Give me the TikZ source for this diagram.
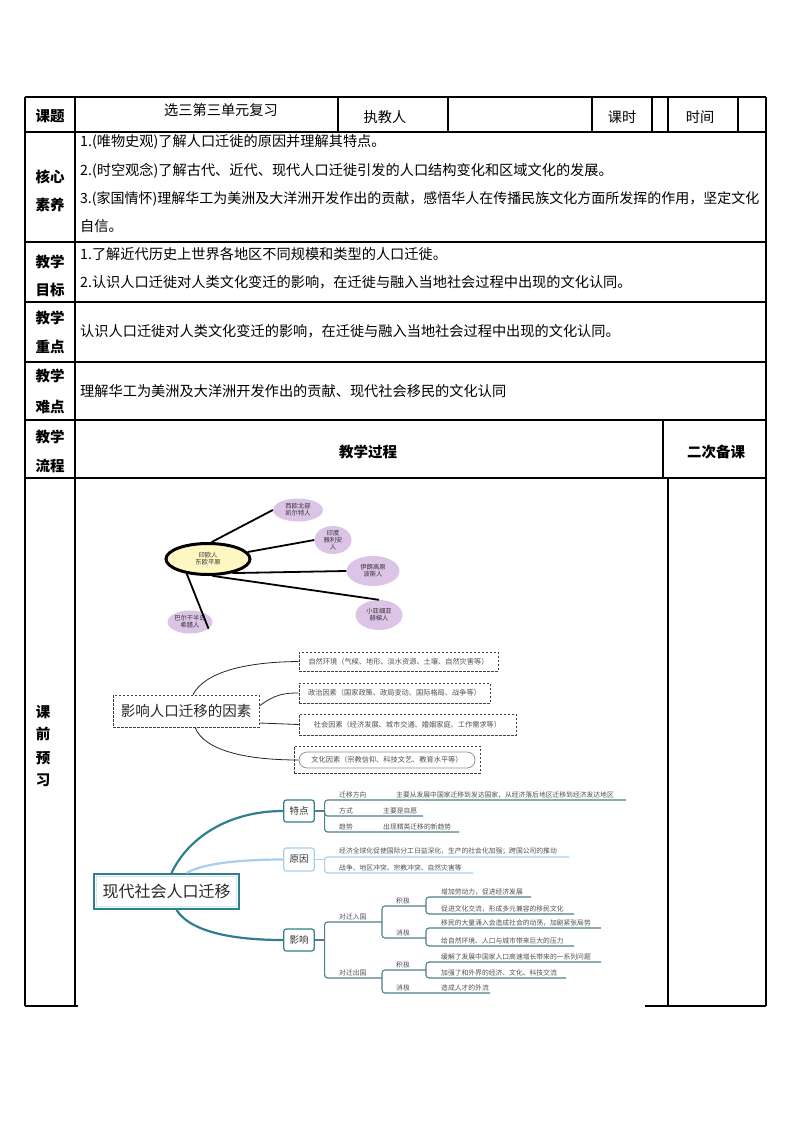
\documentclass[tikz,border=0pt]{standalone}
\usepackage{fontspec}
\setmainfont{Noto Sans CJK SC}
\usetikzlibrary{shapes.geometric}
\definecolor{ylw}{HTML}{FFF7C2}
\definecolor{pur}{HTML}{DCC4E6}
\definecolor{tealC}{HTML}{2F7F8C}
\definecolor{tealL}{HTML}{4F7F8C}
\definecolor{blueL}{HTML}{A9CFEC}
\definecolor{cyanL}{HTML}{C9ECF3}
\definecolor{txtg}{HTML}{505050}
\tikzset{
  tbl/.style={line width=1.1pt, black},
  lbl/.style={inner sep=0pt, font=\fontsize{14.5}{15}\selectfont\bfseries},
  tt/.style={inner sep=0pt, font=\fontsize{14.2}{15}\selectfont},
  tl/.style={tt, anchor=west},
  bub/.style={ellipse, fill=pur, inner sep=0pt, align=center, font=\fontsize{6.3}{7}\selectfont, text=black!80},
  spoke/.style={line width=1.8pt, black},
  fbox/.style={draw=black!75, dashed, dash pattern=on 2.5pt off 1.5pt, line width=0.8pt, inner sep=0pt, font=\fontsize{7.2}{8}\selectfont, text=txtg},
  flink/.style={line width=0.8pt, black!85},
  mbox/.style={rectangle, rounded corners=2.5pt, inner sep=0pt, minimum width=30.5pt, minimum height=22pt, font=\fontsize{9.5}{10}\selectfont, text=black!80, fill=white},
  sm/.style={anchor=west, inner sep=0pt, font=\fontsize{6.8}{7}\selectfont, text=txtg},
  ul/.style={line width=1.1pt, tealL, rounded corners=3pt},
  ulb/.style={line width=1.1pt, blueL, rounded corners=3pt},
}
\begin{document}
\begin{tikzpicture}[x=1pt,y=-1pt]
\useasboundingbox (0,0) rectangle (794,1123);
\fill[white] (0,0) rectangle (794,1123);

% ---------------- table lines
\draw[tbl] (25,97) -- (766,97);
\foreach \yy in {132,242,302,362,420,478} \draw[tbl] (25,\yy) -- (766,\yy);
\draw[tbl] (25,1006) -- (78,1006);
\draw[tbl] (645,1006) -- (766,1006);
\draw[tbl] (25,97) -- (25,1006);
\draw[tbl] (766,97) -- (766,1006);
\draw[tbl] (75,97) -- (75,1006);
\foreach \xx in {338,448,592,652,668,738} \draw[tbl] (\xx,97) -- (\xx,132);
\draw[tbl] (663,420) -- (663,478);
\draw[tbl] (668,478) -- (668,1006);

% ---------------- table text
\node[lbl] (k1) at (50,116) {课题};
\node[tt] (k2) at (221,110) {选三第三单元复习};
\node[tt] (k3) at (385,117) {执教人};
\node[tt] (k4) at (622,117) {课时};
\node[tt] (k5) at (700,117) {时间};

\node[lbl] (h1) at (50,177) {核心};
\node[lbl] (h2) at (50,205) {素养};
\node[tl] (h3) at (80,142) {1.(唯物史观)了解人口迁徙的原因并理解其特点。};
\node[tl] (h4) at (80,171) {2.(时空观念)了解古代、近代、现代人口迁徙引发的人口结构变化和区域文化的发展。};
\node[tl, font=\fontsize{14}{15}\selectfont] (h5) at (80,199) {3.(家国情怀)理解华工为美洲及大洋洲开发作出的贡献，感悟华人在传播民族文化方面所发挥的作用，坚定文化};
\node[tl] (h6) at (80,226) {自信。};

\node[lbl] (g1) at (50,262) {教学};
\node[lbl] (g2) at (50,290) {目标};
\node[tl] (g3) at (80,254) {1.了解近代历史上世界各地区不同规模和类型的人口迁徙。};
\node[tl] (g4) at (80,282) {2.认识人口迁徙对人类文化变迁的影响，在迁徙与融入当地社会过程中出现的文化认同。};

\node[lbl] (z1) at (50,318) {教学};
\node[lbl] (z2) at (50,347) {重点};
\node[tl] (z3) at (80,331) {认识人口迁徙对人类文化变迁的影响，在迁徙与融入当地社会过程中出现的文化认同。};

\node[lbl] (n1) at (50,376) {教学};
\node[lbl] (n2) at (50,407) {难点};
\node[tl] (n3) at (80,391) {理解华工为美洲及大洋洲开发作出的贡献、现代社会移民的文化认同};

\node[lbl] (p1) at (50,437) {教学};
\node[lbl] (p2) at (50,466) {流程};
\node[lbl] (p3) at (368,452) {教学过程};
\node[lbl] (p4) at (716,452) {二次备课};

\node[lbl] (q1) at (43,712) {课};
\node[lbl] (q2) at (43,734) {前};
\node[lbl] (q3) at (43,758) {预};
\node[lbl] (q4) at (43,780) {习};

% ---------------- mind map 1
\node[ellipse, draw=black, line width=3pt, fill=ylw, minimum width=84pt, minimum height=31pt, inner sep=0pt, align=center, font=\fontsize{6.3}{7}\selectfont, text=black!80] (im) at (208,559) {印欧人\\东欧平原};
\node[bub, minimum width=50pt, minimum height=23pt] (e1) at (298,510) {西欧北部\\凯尔特人};
\node[bub, minimum width=37pt, minimum height=27pt] (e2) at (333,540) {印度\\雅利安\\人};
\node[bub, minimum width=53pt, minimum height=30pt] (e3) at (373,571) {伊朗高原\\波斯人};
\node[bub, minimum width=47pt, minimum height=30pt] (e4) at (379,615) {小亚细亚\\赫梯人};
\node[bub, minimum width=45pt, minimum height=23pt] (e5) at (190,622) {巴尔干半岛\\希腊人};
\draw[spoke] (im.78) -- (e1.west);
\draw[spoke] (im.10) -- (e2.west);
\draw[spoke] (im.-30) -- (e3.west);
\draw[spoke] (im.-75) -- (e4.north);
\draw[spoke] (im.-145) -- (e5.-20);

% ---------------- mind map 2
\node[fbox, minimum width=146pt, minimum height=32pt, font=\fontsize{14.5}{15}\selectfont, text=black!85] (f0) at (186,711) {影响人口迁移的因素};
\node[fbox, minimum width=199pt, minimum height=19pt] (f1) at (398.5,661.5) {自然环境（气候、地形、淡水资源、土壤、自然灾害等）};
\node[fbox, minimum width=191pt, minimum height=20pt] (f2) at (394.5,693) {政治因素（国家政策、政局变动、国际格局、战争等）};
\node[fbox, minimum width=217pt, minimum height=21pt] (f3) at (407.5,724.5) {社会因素（经济发展、城市交通、婚姻家庭、工作需求等）};
\node[fbox, minimum width=186pt, minimum height=27pt] (f4o) at (387,759.5) {};
\node[draw=black!45, line width=0.7pt, rounded corners=8pt, minimum width=176pt, minimum height=16pt, inner sep=0pt, font=\fontsize{7.2}{8}\selectfont, text=txtg] (f4) at (387,760) {文化因素（宗教信仰、科技文艺、教育水平等）};
\draw[flink] ([xshift=7pt]f0.north) .. controls (205,672) and (245,662) .. (f1.west);
\draw[flink] ([yshift=5pt]f0.east) .. controls (275,694) and (285,693) .. (f2.west);
\draw[flink] ([yshift=-12pt]f0.east) -- (f3.west);
\draw[flink] ([xshift=9pt]f0.south) .. controls (205,752) and (250,760) .. (f4.west);

% ---------------- mind map 3
\node[draw=tealC, line width=2pt, fill=white, minimum width=145pt, minimum height=35pt, inner sep=0pt, font=\fontsize{16}{17}\selectfont, text=black!85] (m0) at (166.5,891.5) {现代社会人口迁移};
\draw[cyanL, line width=1.3pt] (96.5,876.5) rectangle (236.5,906.5);
\node[mbox, draw=tealC, line width=1.2pt] (tp) at (299,811) {特点};
\node[mbox, draw=blueL, line width=1.2pt, minimum height=23pt] (yy) at (299,859.5) {原因};
\node[mbox, draw=tealC, line width=1.2pt] (yx) at (299,940) {影响};
\draw[tealC, line width=2.2pt] ([xshift=5pt]m0.north) .. controls (188,838) and (228,811) .. (tp.west);
\draw[blueL, line width=2.2pt] ([xshift=20pt]m0.north) .. controls (205,862) and (250,859.5) .. (yy.west);
\draw[tealC, line width=2.2pt] ([xshift=10pt]m0.south) .. controls (192,934) and (240,940) .. (yx.west);

% 特点
\coordinate (J1) at (324.6,811);
\coordinate (a1) at (626,800);
\coordinate (a2) at (423,816);
\coordinate (a3) at (459,832);
\draw[ul] (tp.east) -- (J1);
\draw[ul] (J1) |- (a1);
\draw[ul] (J1) |- (a2);
\draw[ul] (J1) |- (a3);
\node[sm] (t1) at (339,795) {迁移方向};
\node[sm] (t2) at (396,795) {主要从发展中国家迁移到发达国家，从经济落后地区迁移到经济发达地区};
\node[sm] (t3) at (339,811) {方式};
\node[sm] (t4) at (383,811) {主要是自愿};
\node[sm] (t5) at (339,827) {趋势};
\node[sm] (t6) at (383,827) {出现精英迁移的新趋势};

% 原因
\coordinate (J2) at (324.6,859.5);
\coordinate (b1) at (569,857);
\coordinate (b2) at (473,873);
\draw[ulb] (yy.east) -- (J2);
\draw[ulb] (J2) |- (b1);
\draw[ulb] (J2) |- (b2);
\node[sm] (r1) at (339,851.5) {经济全球化促使国际分工日益深化，生产的社会化加强；跨国公司的推动};
\node[sm] (r2) at (339,867.5) {战争、地区冲突、宗教冲突、自然灾害等};

% 影响
\coordinate (J3) at (324.6,940);
\coordinate (J4) at (382,922);
\coordinate (J5) at (426,906);
\coordinate (J6) at (426,938);
\coordinate (J7) at (382,978);
\coordinate (J8) at (426,970);
\coordinate (c1) at (531,897);
\coordinate (c2) at (574,914);
\coordinate (c3) at (601,928);
\coordinate (c4) at (574,946);
\coordinate (c5) at (601,962);
\coordinate (c6) at (566,978);
\coordinate (c7) at (490,993);
\draw[ul] (yx.east) -- (J3);
\draw[ul] (J3) |- (J4);
\draw[ul] (J3) |- (J7);
\draw[ul] (J4) |- (J5);
\draw[ul] (J4) |- (J6);
\draw[ul] (J5) |- (c1);
\draw[ul] (J5) |- (c2);
\draw[ul] (J6) |- (c3);
\draw[ul] (J6) |- (c4);
\draw[ul] (J7) |- (J8);
\draw[ul] (J7) |- (c7);
\draw[ul] (J8) |- (c5);
\draw[ul] (J8) |- (c6);
\node[sm] (s1) at (339,916.5) {对迁入国};
\node[sm] (s2) at (396,900.5) {积极};
\node[sm] (s3) at (396,932.5) {消极};
\node[sm] (s4) at (441,891.5) {增加劳动力，促进经济发展};
\node[sm] (s5) at (441,908.5) {促进文化交流，形成多元兼容的移民文化};
\node[sm] (s6) at (441,922.5) {移民的大量涌入会造成社会的动荡，加剧紧张局势};
\node[sm] (s7) at (441,940.5) {给自然环境、人口与城市带来巨大的压力};
\node[sm] (s8) at (339,972.5) {对迁出国};
\node[sm] (s9) at (396,964.5) {积极};
\node[sm] (s10) at (396,987.5) {消极};
\node[sm] (s11) at (441,956.5) {缓解了发展中国家人口高速增长带来的一系列问题};
\node[sm] (s12) at (441,972.5) {加强了和外界的经济、文化、科技交流};
\node[sm] (s13) at (441,987.5) {造成人才的外流};
\end{tikzpicture}
\end{document}
